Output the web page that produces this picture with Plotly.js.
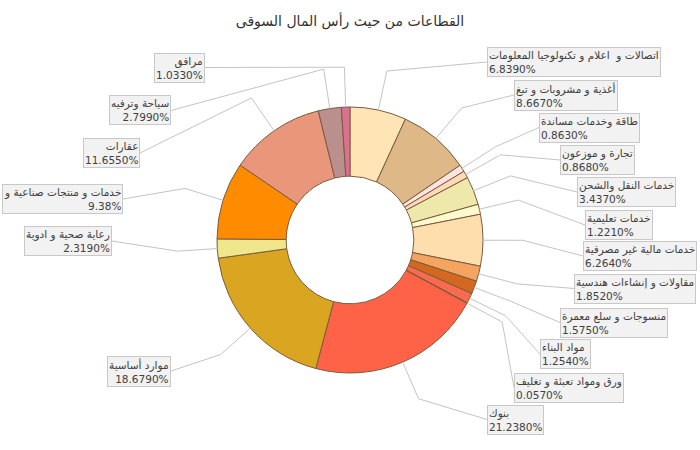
<!DOCTYPE html>
<html>
<head>
<meta charset="utf-8">
<script src="https://cdn.plot.ly/plotly-3.0.1.min.js"></script>
<style>html,body{margin:0;padding:0;background:#fff}#chart{width:700px;height:450px}</style>
</head>
<body>
<div id="chart"></div>
<script>
// ---- data ----
const sectors = [
  "اتصالات و  اعلام و تكنولوجيا المعلومات",
  "أغذية و مشروبات و تبغ",
  "طاقة وخدمات مساندة",
  "تجارة و موزعون",
  "خدمات النقل والشحن",
  "خدمات تعليمية",
  "خدمات مالية غير مصرفية",
  "مقاولات و إنشاءات هندسية",
  "منسوجات و سلع معمرة",
  "مواد البناء",
  "ورق ومواد تعبئة و تغليف",
  "بنوك",
  "موارد أساسية",
  "رعاية صحية و ادوية",
  "خدمات و منتجات صناعية و",
  "عقارات",
  "سياحة وترفيه",
  "مرافق"
];
const shares = [6.839, 8.667, 0.863, 0.868, 3.437, 1.221, 6.264, 1.852, 1.575, 1.254, 0.057, 21.238, 18.679, 2.319, 9.38, 11.655, 2.799, 1.033];
const shareText = ["6.8390%", "8.6670%", "0.8630%", "0.8680%", "3.4370%", "1.2210%", "6.2640%", "1.8520%", "1.5750%", "1.2540%", "0.0570%", "21.2380%", "18.6790%", "2.3190%", "9.38%", "11.6550%", "2.7990%", "1.0330%"];
const titleText = "القطاعات من حيث رأس المال السوقى";

// ---- styles / layout ----
const colors = ["#FFE4B5", "#DEB887", "#FFE4E1", "#FFDAB9", "#EEE8AA", "#FFFACD", "#FFDEAD", "#F4A460", "#D2691E", "#F96A4E", "#8B3A2A", "#FF6347", "#DAA520", "#F0E68C", "#FF8C00", "#E9967A", "#BC8F8F", "#DB7093"];
const W = 700, H = 450;
const domX = [217 / W, 483 / W];
const domY = [1 - 373 / H, 1 - 107 / H];
// label box anchor (px): side edge x, vertical centre y; side: 1 = right of pie, -1 = left
const boxX = [487, 514, 539, 560, 577, 585, 583, 574, 560, 540, 514, 487, 171, 112, 123, 140, 171, 205];
const boxY = [62, 95, 127.5, 160, 192, 225, 256, 288.5, 322.5, 354, 387.5, 419.5, 371, 241, 199, 153, 110.5, 67.5];
const boxSide = [1, 1, 1, 1, 1, 1, 1, 1, 1, 1, 1, 1, -1, -1, -1, -1, -1, -1];

const cx = (domX[0] + domX[1]) / 2 * W;
const cy = (1 - (domY[0] + domY[1]) / 2) * H;
const R = Math.min((domX[1] - domX[0]) * W, (domY[1] - domY[0]) * H) / 2;
const total = shares.reduce((a, b) => a + b, 0);

const px = x => x / W, py = y => 1 - y / H;
const shapes = [], annotations = [];
let cum = 0;
shares.forEach((v, i) => {
  const th = 2 * Math.PI * (cum + v / 2) / total;
  cum += v;
  const x0 = cx + R * Math.sin(th), y0 = cy - R * Math.cos(th);
  const x1 = cx + 1.3 * R * Math.sin(th), y1 = cy - 1.3 * R * Math.cos(th);
  const x2 = boxX[i], y2 = boxY[i];
  shapes.push({
    type: 'path', xref: 'paper', yref: 'paper',
    path: `M ${px(x0)} ${py(y0)} L ${px(x1)} ${py(y1)} L ${px(x2)} ${py(y2)}`,
    line: {color: '#c4c4c4', width: 1}
  });
  annotations.push({
    xref: 'paper', yref: 'paper', x: px(x2), y: py(y2),
    xanchor: boxSide[i] > 0 ? 'left' : 'right', yanchor: 'middle',
    align: boxSide[i] > 0 ? 'left' : 'right',
    text: sectors[i] + '<br>' + shareText[i],
    showarrow: false,
    bgcolor: '#f2f2f2', bordercolor: '#c8c8c8', borderwidth: 1, borderpad: 1,
    font: {family: 'DejaVu Sans, sans-serif', size: 10.5, color: '#404040'}
  });
});

const trace = {
  type: 'pie',
  labels: sectors,
  values: shares,
  sort: false,
  direction: 'clockwise',
  rotation: 0,
  hole: 0.48,
  textinfo: 'none',
  hoverinfo: 'label+percent',
  domain: {x: domX, y: domY},
  marker: {colors: colors, line: {color: '#7a5c3e', width: 1}}
};

const layout = {
  width: W, height: H,
  margin: {l: 0, r: 0, t: 0, b: 0},
  paper_bgcolor: '#ffffff',
  showlegend: false,
  title: {text: titleText, x: 0.5, xanchor: 'center', y: 1 - 21 / H, yanchor: 'middle',
          font: {family: 'DejaVu Sans, sans-serif', size: 14, color: '#333333'}},
  shapes: shapes,
  annotations: annotations
};

Plotly.newPlot('chart', [trace], layout, {displayModeBar: false, staticPlot: true});
</script>
</body>
</html>
